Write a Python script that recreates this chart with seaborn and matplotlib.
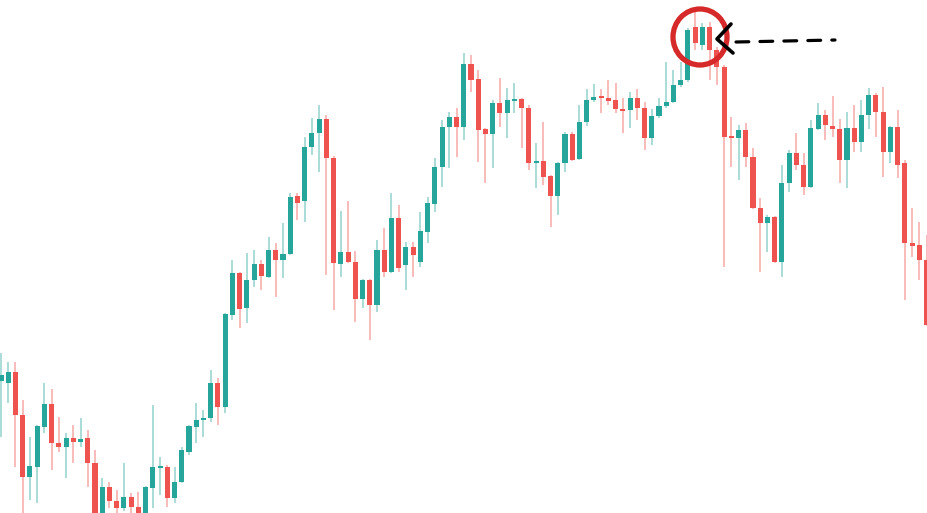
import numpy as np
import pandas as pd
import matplotlib
matplotlib.use("Agg")
import matplotlib.pyplot as plt
from matplotlib.patches import Ellipse
import seaborn as sns

# candle values (arbitrary price units)
opens = [149, 147, 158, 115, 53, 63, 103, 126, 87, 83, 92, 88, 92, 67, 12, 43, 29, 22, 33, 23,
         14, 42, 62, 63, 32, 48, 78, 103, 110, 112, 147, 123, 215, 257, 222, 250, 266, 253, 280, 270,
         276, 334, 329, 383, 397, 411, 372, 266, 278, 268, 231, 250, 225, 280, 258, 312, 265, 283, 268, 298,
         326, 363, 403, 413, 403, 466, 451, 401, 396, 427, 417, 429, 431, 422, 367, 369, 354, 334, 367, 396,
         371, 408, 430, 433, 432, 430, 421, 420, 432, 422, 392, 414, 424, 428, 445, 450, 503, 485, 503, 480,
         463, 393, 392, 400, 373, 322, 307, 313, 268, 347, 377, 365, 343, 401, 415, 404, 401, 370, 402, 388,
         415, 435, 418, 378, 403, 367, 287, 285, 270]
highs = [177, 168, 168, 130, 93, 105, 147, 141, 113, 97, 105, 112, 100, 80, 52, 48, 40, 67, 37, 38,
         44, 125, 73, 65, 63, 83, 105, 127, 120, 160, 152, 217, 270, 258, 277, 280, 270, 293, 287, 307,
         337, 337, 393, 412, 425, 415, 374, 319, 329, 279, 251, 251, 290, 302, 337, 325, 288, 288, 318, 333,
         372, 410, 418, 422, 477, 475, 460, 402, 430, 452, 442, 447, 432, 425, 387, 408, 355, 368, 398, 398,
         425, 441, 446, 441, 450, 447, 432, 438, 441, 428, 421, 432, 468, 460, 468, 502, 523, 507, 508, 483,
         465, 413, 405, 407, 382, 332, 315, 314, 365, 380, 397, 377, 410, 427, 420, 434, 411, 418, 425, 430,
         442, 437, 443, 404, 420, 370, 322, 308, 295]
lows = [93, 127, 63, 17, 30, 27, 97, 60, 78, 52, 67, 83, 43, 5, 8, 22, 12, 19, 14, 10,
        12, 22, 35, 23, 27, 47, 75, 87, 93, 108, 105, 117, 210, 202, 207, 243, 240, 252, 233, 252,
        275, 310, 308, 375, 358, 255, 220, 253, 267, 208, 222, 190, 218, 253, 257, 258, 240, 253, 263, 287,
        318, 343, 362, 373, 390, 438, 368, 347, 362, 403, 392, 417, 382, 360, 342, 345, 303, 315, 358, 369,
        370, 404, 428, 417, 425, 417, 397, 402, 410, 380, 385, 412, 422, 427, 443, 448, 480, 480, 450, 445,
        263, 363, 350, 363, 321, 258, 278, 267, 253, 338, 360, 335, 342, 400, 390, 393, 347, 342, 378, 378,
        401, 393, 353, 367, 352, 230, 273, 250, 204]
closes = [155, 158, 115, 53, 64, 104, 126, 87, 83, 92, 88, 91, 67, 12, 43, 29, 22, 33, 23, 14,
          43, 63, 64, 32, 48, 80, 104, 110, 112, 147, 123, 216, 257, 221, 250, 266, 254, 280, 270, 276,
          333, 327, 383, 397, 411, 372, 267, 278, 268, 231, 250, 225, 280, 258, 312, 262, 283, 275, 299, 327,
          363, 403, 413, 403, 466, 450, 400, 396, 427, 417, 430, 431, 422, 367, 369, 353, 334, 367, 396, 370,
          408, 430, 433, 432, 429, 421, 419, 432, 422, 392, 414, 424, 428, 445, 450, 500, 487, 503, 480, 463,
          393, 392, 400, 373, 322, 307, 313, 268, 347, 377, 365, 343, 402, 415, 405, 401, 370, 402, 388, 415,
          435, 418, 378, 403, 365, 287, 284, 270, 205]

UP = "#26a69a"
DOWN = "#ef5350"

df = pd.DataFrame({"open": opens, "high": highs, "low": lows, "close": closes})
df["up"] = df["close"] >= df["open"]
df["bottom"] = df[["open", "close"]].min(axis=1)
df["height"] = (df["close"] - df["open"]).abs().clip(lower=2)
df["color"] = np.where(df["up"], UP, DOWN)

sns.set_theme(style="white")

fig = plt.figure(figsize=(9.28, 5.13), dpi=100)
ax = fig.add_axes([0, 0, 1, 1])

x = np.arange(len(df))
ax.vlines(x, df["low"], df["high"], colors=df["color"], linewidth=1.1, alpha=0.5)
ax.bar(x, df["height"], bottom=df["bottom"], width=0.7, color=df["color"], linewidth=0)

ax.set_xlim(-0.14, 128.2)
ax.set_ylim(17, 530)
ax.axis("off")

# hand-drawn annotation overlay in pixel space
ov = fig.add_axes([0, 0, 1, 1], facecolor="none")
ov.set_xlim(0, 928)
ov.set_ylim(513, 0)
ov.axis("off")
ov.add_patch(Ellipse((700, 37), 54, 56, fill=False, edgecolor="#d62a2a", linewidth=3.8))
ov.plot([731, 717, 733], [24, 39, 53], color="black", linewidth=2.6,
        solid_capstyle="round", solid_joinstyle="round")
ov.plot([736, 835], [42, 40], color="black", linewidth=2.3, linestyle=(0, (4, 3.5)),
        dash_capstyle="round")

fig.savefig("out.png", dpi=100)
